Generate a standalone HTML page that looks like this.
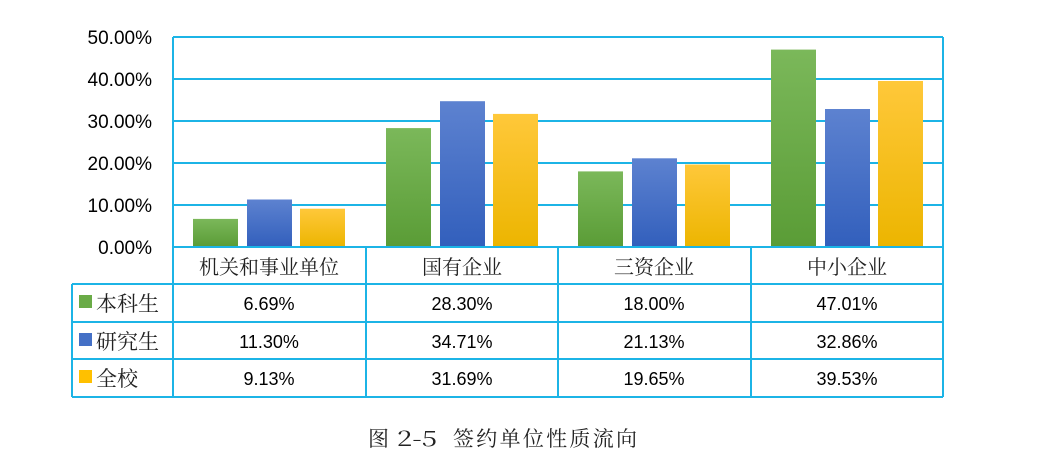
<!DOCTYPE html>
<html><head><meta charset="utf-8"><style>
html,body{margin:0;padding:0;background:#fff;width:1063px;height:473px;overflow:hidden}
svg{display:block}
.y{font-family:"Liberation Sans",sans-serif;font-size:19px;fill:#000;text-anchor:end}
.c{font-family:"Noto Serif CJK SC","Liberation Serif",serif;font-size:20px;fill:#222;text-anchor:middle}
.v{font-family:"Liberation Sans",sans-serif;font-size:18px;fill:#000;text-anchor:middle}
.l{font-family:"Noto Serif CJK SC","Liberation Serif",serif;font-size:21px;fill:#222}
.cap{font-family:"Noto Serif CJK SC","Liberation Serif",serif;font-size:21px;fill:#222}
</style></head><body>
<svg width="1063" height="473" viewBox="0 0 1063 473" xmlns="http://www.w3.org/2000/svg">
<defs>
<linearGradient id="g" x1="0" y1="0" x2="0" y2="1"><stop offset="0" stop-color="#7bb85a"/><stop offset="1" stop-color="#5a9c36"/></linearGradient>
<linearGradient id="b" x1="0" y1="0" x2="0" y2="1"><stop offset="0" stop-color="#5d82d0"/><stop offset="1" stop-color="#325fbc"/></linearGradient>
<linearGradient id="o" x1="0" y1="0" x2="0" y2="1"><stop offset="0" stop-color="#ffc83a"/><stop offset="1" stop-color="#ecb500"/></linearGradient>
</defs>
<g stroke="#1cb4e6" stroke-width="2" fill="none">
<line x1="173" y1="37" x2="943" y2="37"/>
<line x1="173" y1="79" x2="943" y2="79"/>
<line x1="173" y1="121" x2="943" y2="121"/>
<line x1="173" y1="163" x2="943" y2="163"/>
<line x1="173" y1="205" x2="943" y2="205"/>
<line x1="173" y1="37" x2="173" y2="397"/>
<line x1="943" y1="37" x2="943" y2="397"/>
</g>
<g>
<rect x="193" y="218.9" width="45" height="28.1" fill="url(#g)"/>
<rect x="247" y="199.5" width="45" height="47.5" fill="url(#b)"/>
<rect x="300" y="208.7" width="45" height="38.3" fill="url(#o)"/>
<rect x="386" y="128.1" width="45" height="118.9" fill="url(#g)"/>
<rect x="440" y="101.2" width="45" height="145.8" fill="url(#b)"/>
<rect x="493" y="113.9" width="45" height="133.1" fill="url(#o)"/>
<rect x="578" y="171.4" width="45" height="75.6" fill="url(#g)"/>
<rect x="632" y="158.3" width="45" height="88.7" fill="url(#b)"/>
<rect x="685" y="164.5" width="45" height="82.5" fill="url(#o)"/>
<rect x="771" y="49.6" width="45" height="197.4" fill="url(#g)"/>
<rect x="825" y="109" width="45" height="138" fill="url(#b)"/>
<rect x="878" y="81" width="45" height="166" fill="url(#o)"/>
</g>
<g stroke="#1cb4e6" stroke-width="2" fill="none">
<line x1="173" y1="247" x2="943" y2="247"/>
<line x1="72" y1="284" x2="943" y2="284"/>
<line x1="72" y1="322" x2="943" y2="322"/>
<line x1="72" y1="359" x2="943" y2="359"/>
<line x1="72" y1="397" x2="943" y2="397"/>
<line x1="72" y1="284" x2="72" y2="397"/>
<line x1="366" y1="247" x2="366" y2="397"/>
<line x1="558" y1="247" x2="558" y2="397"/>
<line x1="751" y1="247" x2="751" y2="397"/>
</g>
<g class="y">
<text x="152" y="44">50.00%</text>
<text x="152" y="86">40.00%</text>
<text x="152" y="128">30.00%</text>
<text x="152" y="170">20.00%</text>
<text x="152" y="212">10.00%</text>
<text x="152" y="254">0.00%</text>
</g>
<g class="c">
<text x="269" y="274">机关和事业单位</text>
<text x="462" y="274">国有企业</text>
<text x="654" y="274">三资企业</text>
<text x="847" y="274">中小企业</text>
</g>
<rect x="79" y="295" width="13" height="13" fill="#6aab47"/>
<rect x="79" y="333" width="13" height="13" fill="#4470c6"/>
<rect x="79" y="370" width="13" height="13" fill="#ffc000"/>
<g class="l">
<text x="96" y="311">本科生</text>
<text x="96" y="349">研究生</text>
<text x="96" y="386">全校</text>
</g>
<g class="v">
<text x="269" y="310">6.69%</text><text x="462" y="310">28.30%</text><text x="654" y="310">18.00%</text><text x="847" y="310">47.01%</text>
<text x="269" y="348">11.30%</text><text x="462" y="348">34.71%</text><text x="654" y="348">21.13%</text><text x="847" y="348">32.86%</text>
<text x="269" y="385">9.13%</text><text x="462" y="385">31.69%</text><text x="654" y="385">19.65%</text><text x="847" y="385">39.53%</text>
</g>
<g class="cap">
<text x="368" y="446">图</text>
<text x="397" y="446" textLength="40" lengthAdjust="spacingAndGlyphs">2-5</text>
<text x="453" y="446" textLength="184" lengthAdjust="spacing">签约单位性质流向</text>
</g>
</svg>
</body></html>
